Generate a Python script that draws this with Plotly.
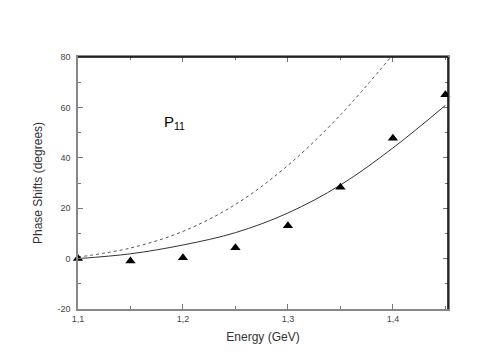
import plotly.graph_objects as go

# Energy grid (GeV)
energy = [1.10, 1.15, 1.20, 1.25, 1.30, 1.35, 1.40, 1.45]

# experimental phase shifts (triangles)
data_points = [0.0, -1.0, 0.3, 4.3, 13.0, 28.3, 47.8, 65.0]

# model curves
solid_curve = [0.0, 1.9, 5.4, 10.3, 18.1, 29.2, 43.9, 60.8]
dotted_energy = [1.10, 1.15, 1.20, 1.25, 1.30, 1.35, 1.40]
dotted_curve = [0.6, 4.2, 10.8, 21.5, 37.0, 57.0, 81.0]

x_ticks = [1.1, 1.2, 1.3, 1.4]
x_ticklabels = ['1,1', '1,2', '1,3', '1,4']
y_ticks = [-20, 0, 20, 40, 60, 80]
y_ticklabels = ['-20', '0', '20', '40', '60', '80']

fig = go.Figure()

fig.add_trace(go.Scatter(
    x=dotted_energy, y=dotted_curve, mode='lines', line_shape='spline',
    line=dict(color='#555555', width=1, dash='dot'), showlegend=False))

fig.add_trace(go.Scatter(
    x=energy, y=solid_curve, mode='lines', line_shape='spline',
    line=dict(color='#333333', width=1), showlegend=False))

fig.add_trace(go.Scatter(
    x=energy, y=data_points, mode='markers', cliponaxis=False,
    marker=dict(symbol='triangle-up', size=9, color='black'), showlegend=False))

fig.add_annotation(x=1.192, y=54, xref='x', yref='y', showarrow=False,
                   text='P<sub>11</sub>', font=dict(size=15, color='black'))

# top and right frame lines are black
fig.add_shape(type='line', xref='paper', yref='paper', x0=0, x1=1, y0=1, y1=1,
              line=dict(color='black', width=1.5))
fig.add_shape(type='line', xref='paper', yref='paper', x0=1, x1=1, y0=0, y1=1,
              line=dict(color='black', width=1.5))

axis_font = dict(family='Arial, Liberation Sans, sans-serif', size=9, color='#444444')

fig.update_layout(
    width=485, height=356,
    margin=dict(l=70, r=45, t=49, b=55),
    plot_bgcolor='white', paper_bgcolor='white',
    font=dict(family='Arial, Liberation Sans, sans-serif', color='#333333'),
    xaxis=dict(
        range=[1.1, 1.4525], tickvals=x_ticks, ticktext=x_ticklabels,
        ticks='inside', ticklen=5, tickcolor='#777777', mirror='ticks',
        showline=True, linecolor='#888888', linewidth=1.5, showgrid=False,
        zeroline=False, tickfont=axis_font,
        minor=dict(dtick=0.05, ticks='inside', ticklen=3, tickcolor='#777777'),
        title=dict(text='Energy (GeV)', font=dict(size=12, color='#333333'), standoff=10),
    ),
    yaxis=dict(
        range=[-20, 80], tickvals=y_ticks, ticktext=y_ticklabels,
        ticks='inside', ticklen=5, tickcolor='#777777', mirror='ticks',
        showline=True, linecolor='#888888', linewidth=1.5, showgrid=False,
        zeroline=False, tickfont=axis_font, ticklabelstandoff=4,
        minor=dict(dtick=10, ticks='inside', ticklen=3, tickcolor='#777777'),
        title=dict(text='Phase Shifts (degrees)', font=dict(size=12, color='#333333'), standoff=12),
    ),
)

fig.write_html("out.html")
